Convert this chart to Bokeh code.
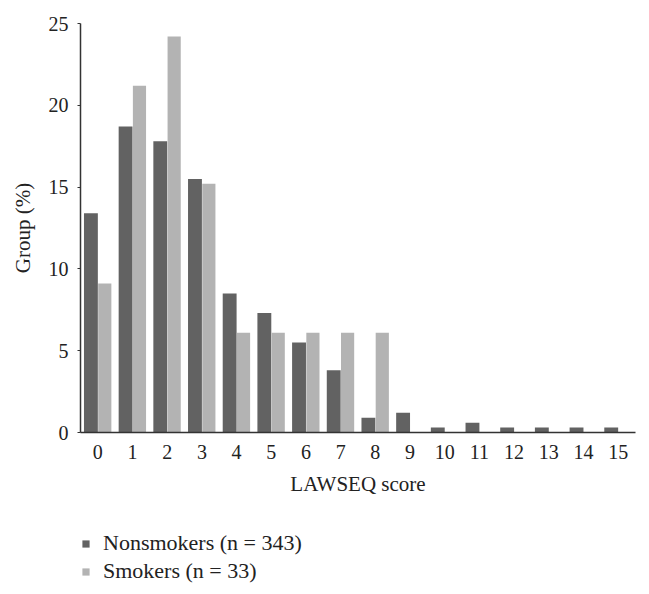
from bokeh.plotting import figure
from bokeh.layouts import column
from bokeh.models import ColumnDataSource, Legend, LegendItem, Range1d, FixedTicker
from bokeh.transform import dodge
from bokeh.embed import file_html
from bokeh.resources import INLINE

scores = list(range(16))
nonsmokers = [13.4, 18.7, 17.8, 15.5, 8.5, 7.3, 5.5, 3.8, 0.9, 1.2, 0.3, 0.6, 0.3, 0.3, 0.3, 0.3]
smokers = [9.1, 21.2, 24.2, 15.2, 6.1, 6.1, 6.1, 6.1, 6.1, 0, 0, 0, 0, 0, 0, 0]
y_ticks = [0, 5, 10, 15, 20, 25]
labels = ["Nonsmokers (n = 343)", "Smokers (n = 33)"]
colors = ["#626262", "#b3b3b3"]

FONT = "Liberation Serif"

src = ColumnDataSource(data=dict(x=scores, non=nonsmokers, smk=smokers))

p = figure(width=649, height=500, output_backend="svg", toolbar_location=None,
           x_range=Range1d(-0.5, 15.5), y_range=Range1d(0, 25),
           min_border_left=80, min_border_right=14, min_border_top=23, min_border_bottom=68)

p.vbar(x=dodge('x', -0.2, range=p.x_range), top='non', width=0.4, source=src,
       fill_color=colors[0], line_color=None)
p.vbar(x=dodge('x', 0.2, range=p.x_range), top='smk', width=0.38, source=src,
       fill_color=colors[1], line_color=None)

p.xgrid.visible = False
p.ygrid.visible = False
p.outline_line_color = None

p.xaxis.ticker = FixedTicker(ticks=scores)
p.yaxis.ticker = FixedTicker(ticks=y_ticks)
for ax in (p.xaxis, p.yaxis):
    ax.axis_line_color = "#333333"
    ax.axis_line_width = 1.5
    ax.major_label_text_font = FONT
    ax.major_label_text_font_size = "20px"
    ax.major_label_text_color = "#222222"
    ax.axis_label_text_font = FONT
    ax.axis_label_text_font_size = "21px"
    ax.axis_label_text_font_style = "normal"
    ax.axis_label_text_color = "#222222"
    ax.minor_tick_line_color = None

p.xaxis.major_tick_line_color = None
p.xaxis.major_label_standoff = 6
p.xaxis.axis_label = "LAWSEQ score"
p.xaxis.axis_label_standoff = 10

p.yaxis.major_tick_in = 0
p.yaxis.major_tick_out = 3
p.yaxis.major_tick_line_color = "#333333"
p.yaxis.major_label_standoff = 9
p.yaxis.axis_label = "Group (%)"
p.yaxis.axis_label_standoff = 11

# legend panel (separate strip below the chart); its bars lie outside its ranges
lg = figure(width=649, height=94, output_backend="svg", toolbar_location=None,
            x_axis_type=None, y_axis_type=None,
            min_border_left=80, min_border_right=14, min_border_top=0, min_border_bottom=0,
            x_range=Range1d(100, 101), y_range=Range1d(100, 101))
lg.outline_line_color = None
lg.xgrid.visible = False
lg.ygrid.visible = False
g1 = lg.vbar(x='x', top='non', width=0.4, source=src, fill_color=colors[0], line_color=None)
g2 = lg.vbar(x='x', top='smk', width=0.4, source=src, fill_color=colors[1], line_color=None)

legend = Legend(items=[LegendItem(label=labels[0], renderers=[g1]),
                       LegendItem(label=labels[1], renderers=[g2])],
                location=(1, 10), orientation="vertical",
                glyph_width=9, glyph_height=9, spacing=2, label_standoff=13,
                label_text_font=FONT, label_text_font_size="22px", label_text_color="#222222",
                border_line_color=None, background_fill_alpha=0, padding=0, margin=0)
lg.add_layout(legend, "center")

layout = column(p, lg, spacing=0)
open("out.html", "w").write(file_html(layout, INLINE))
